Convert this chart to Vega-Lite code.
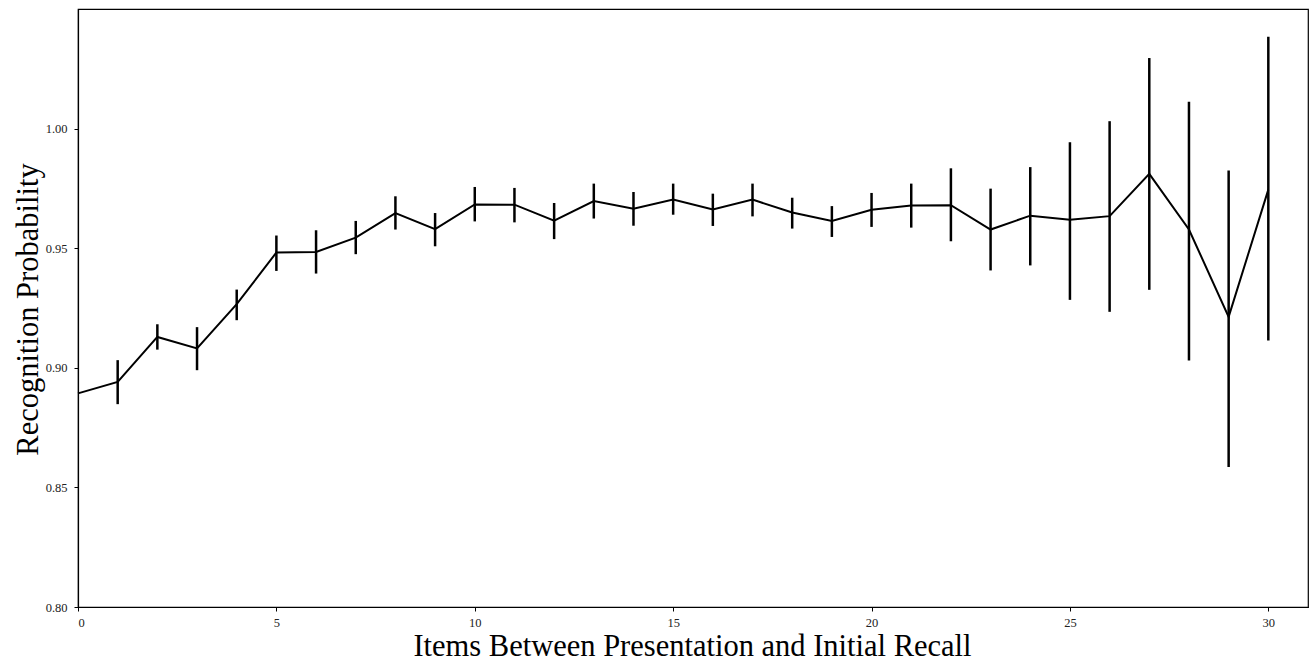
{
  "$schema": "https://vega.github.io/schema/vega-lite/v6.json",
  "width": 1230,
  "height": 598,
  "autosize": {"type": "none"},
  "padding": {"left": 78, "top": 9, "right": 1, "bottom": 54},
  "background": "white",
  "config": {
    "view": {"stroke": "black", "strokeWidth": 1.2},
    "axis": {
      "grid": false,
      "domainColor": "black",
      "domainWidth": 1.2,
      "tickColor": "black",
      "tickSize": 4,
      "tickWidth": 1,
      "labelFont": "Liberation Serif",
      "labelFontSize": 12.5,
      "labelColor": "#222",
      "titleFont": "Liberation Serif",
      "titleFontSize": 30.5,
      "titleFontWeight": "normal",
      "titleColor": "black"
    }
  },
  "data": {
    "values": [
      {"k": 0, "p": 0.8893, "lo": 0.8893, "hi": 0.8893},
      {"k": 1, "p": 0.8941, "lo": 0.8848, "hi": 0.9032},
      {"k": 2, "p": 0.9129, "lo": 0.9076, "hi": 0.9182},
      {"k": 3, "p": 0.9081, "lo": 0.8990, "hi": 0.9170},
      {"k": 4, "p": 0.9266, "lo": 0.9199, "hi": 0.9327},
      {"k": 5, "p": 0.9482, "lo": 0.9405, "hi": 0.9553},
      {"k": 6, "p": 0.9484, "lo": 0.9394, "hi": 0.9575},
      {"k": 7, "p": 0.9544, "lo": 0.9475, "hi": 0.9614},
      {"k": 8, "p": 0.9647, "lo": 0.9578, "hi": 0.9717},
      {"k": 9, "p": 0.9580, "lo": 0.9508, "hi": 0.9647},
      {"k": 10, "p": 0.9683, "lo": 0.9612, "hi": 0.9756},
      {"k": 11, "p": 0.9682, "lo": 0.9608, "hi": 0.9752},
      {"k": 12, "p": 0.9615, "lo": 0.9538, "hi": 0.9689},
      {"k": 13, "p": 0.9697, "lo": 0.9624, "hi": 0.9770},
      {"k": 14, "p": 0.9665, "lo": 0.9594, "hi": 0.9735},
      {"k": 15, "p": 0.9703, "lo": 0.9640, "hi": 0.9770},
      {"k": 16, "p": 0.9662, "lo": 0.9593, "hi": 0.9728},
      {"k": 17, "p": 0.9703, "lo": 0.9633, "hi": 0.9770},
      {"k": 18, "p": 0.9649, "lo": 0.9582, "hi": 0.9711},
      {"k": 19, "p": 0.9614, "lo": 0.9547, "hi": 0.9676},
      {"k": 20, "p": 0.9661, "lo": 0.9589, "hi": 0.9731},
      {"k": 21, "p": 0.9679, "lo": 0.9586, "hi": 0.9770},
      {"k": 22, "p": 0.9680, "lo": 0.9529, "hi": 0.9834},
      {"k": 23, "p": 0.9578, "lo": 0.9407, "hi": 0.9749},
      {"k": 24, "p": 0.9636, "lo": 0.9428, "hi": 0.9839},
      {"k": 25, "p": 0.9619, "lo": 0.9284, "hi": 0.9943},
      {"k": 26, "p": 0.9634, "lo": 0.9234, "hi": 1.0031},
      {"k": 27, "p": 0.9811, "lo": 0.9326, "hi": 1.0295},
      {"k": 28, "p": 0.9578, "lo": 0.9031, "hi": 1.0112},
      {"k": 29, "p": 0.9213, "lo": 0.8585, "hi": 0.9825},
      {"k": 30, "p": 0.9745, "lo": 0.9114, "hi": 1.0384}
    ]
  },
  "layer": [
    {
      "transform": [{"filter": "datum.k > 0"}],
      "mark": {"type": "rule", "color": "black", "strokeWidth": 2.5},
      "encoding": {
        "x": {"field": "k", "type": "quantitative"},
        "y": {"field": "lo", "type": "quantitative"},
        "y2": {"field": "hi"}
      }
    },
    {
      "mark": {"type": "line", "color": "black", "strokeWidth": 2},
      "encoding": {
        "x": {
          "field": "k",
          "type": "quantitative",
          "scale": {"domain": [0, 31], "nice": false, "zero": false},
          "axis": {
            "title": "Items Between Presentation and Initial Recall",
            "values": [0, 5, 10, 15, 20, 25, 30],
            "labelPadding": 5,
            "titleBaseline": "alphabetic",
            "titleY": 48,
            "titleX": 614
          }
        },
        "y": {
          "field": "p",
          "type": "quantitative",
          "scale": {"domain": [0.8, 1.05], "nice": false, "zero": false},
          "axis": {
            "title": "Recognition Probability",
            "values": [0.8, 0.85, 0.9, 0.95, 1.0],
            "format": ".2f",
            "labelPadding": 7,
            "titleAngle": -90,
            "titleBaseline": "alphabetic",
            "titleX": -41,
            "titleY": 300
          }
        }
      }
    }
  ]
}
